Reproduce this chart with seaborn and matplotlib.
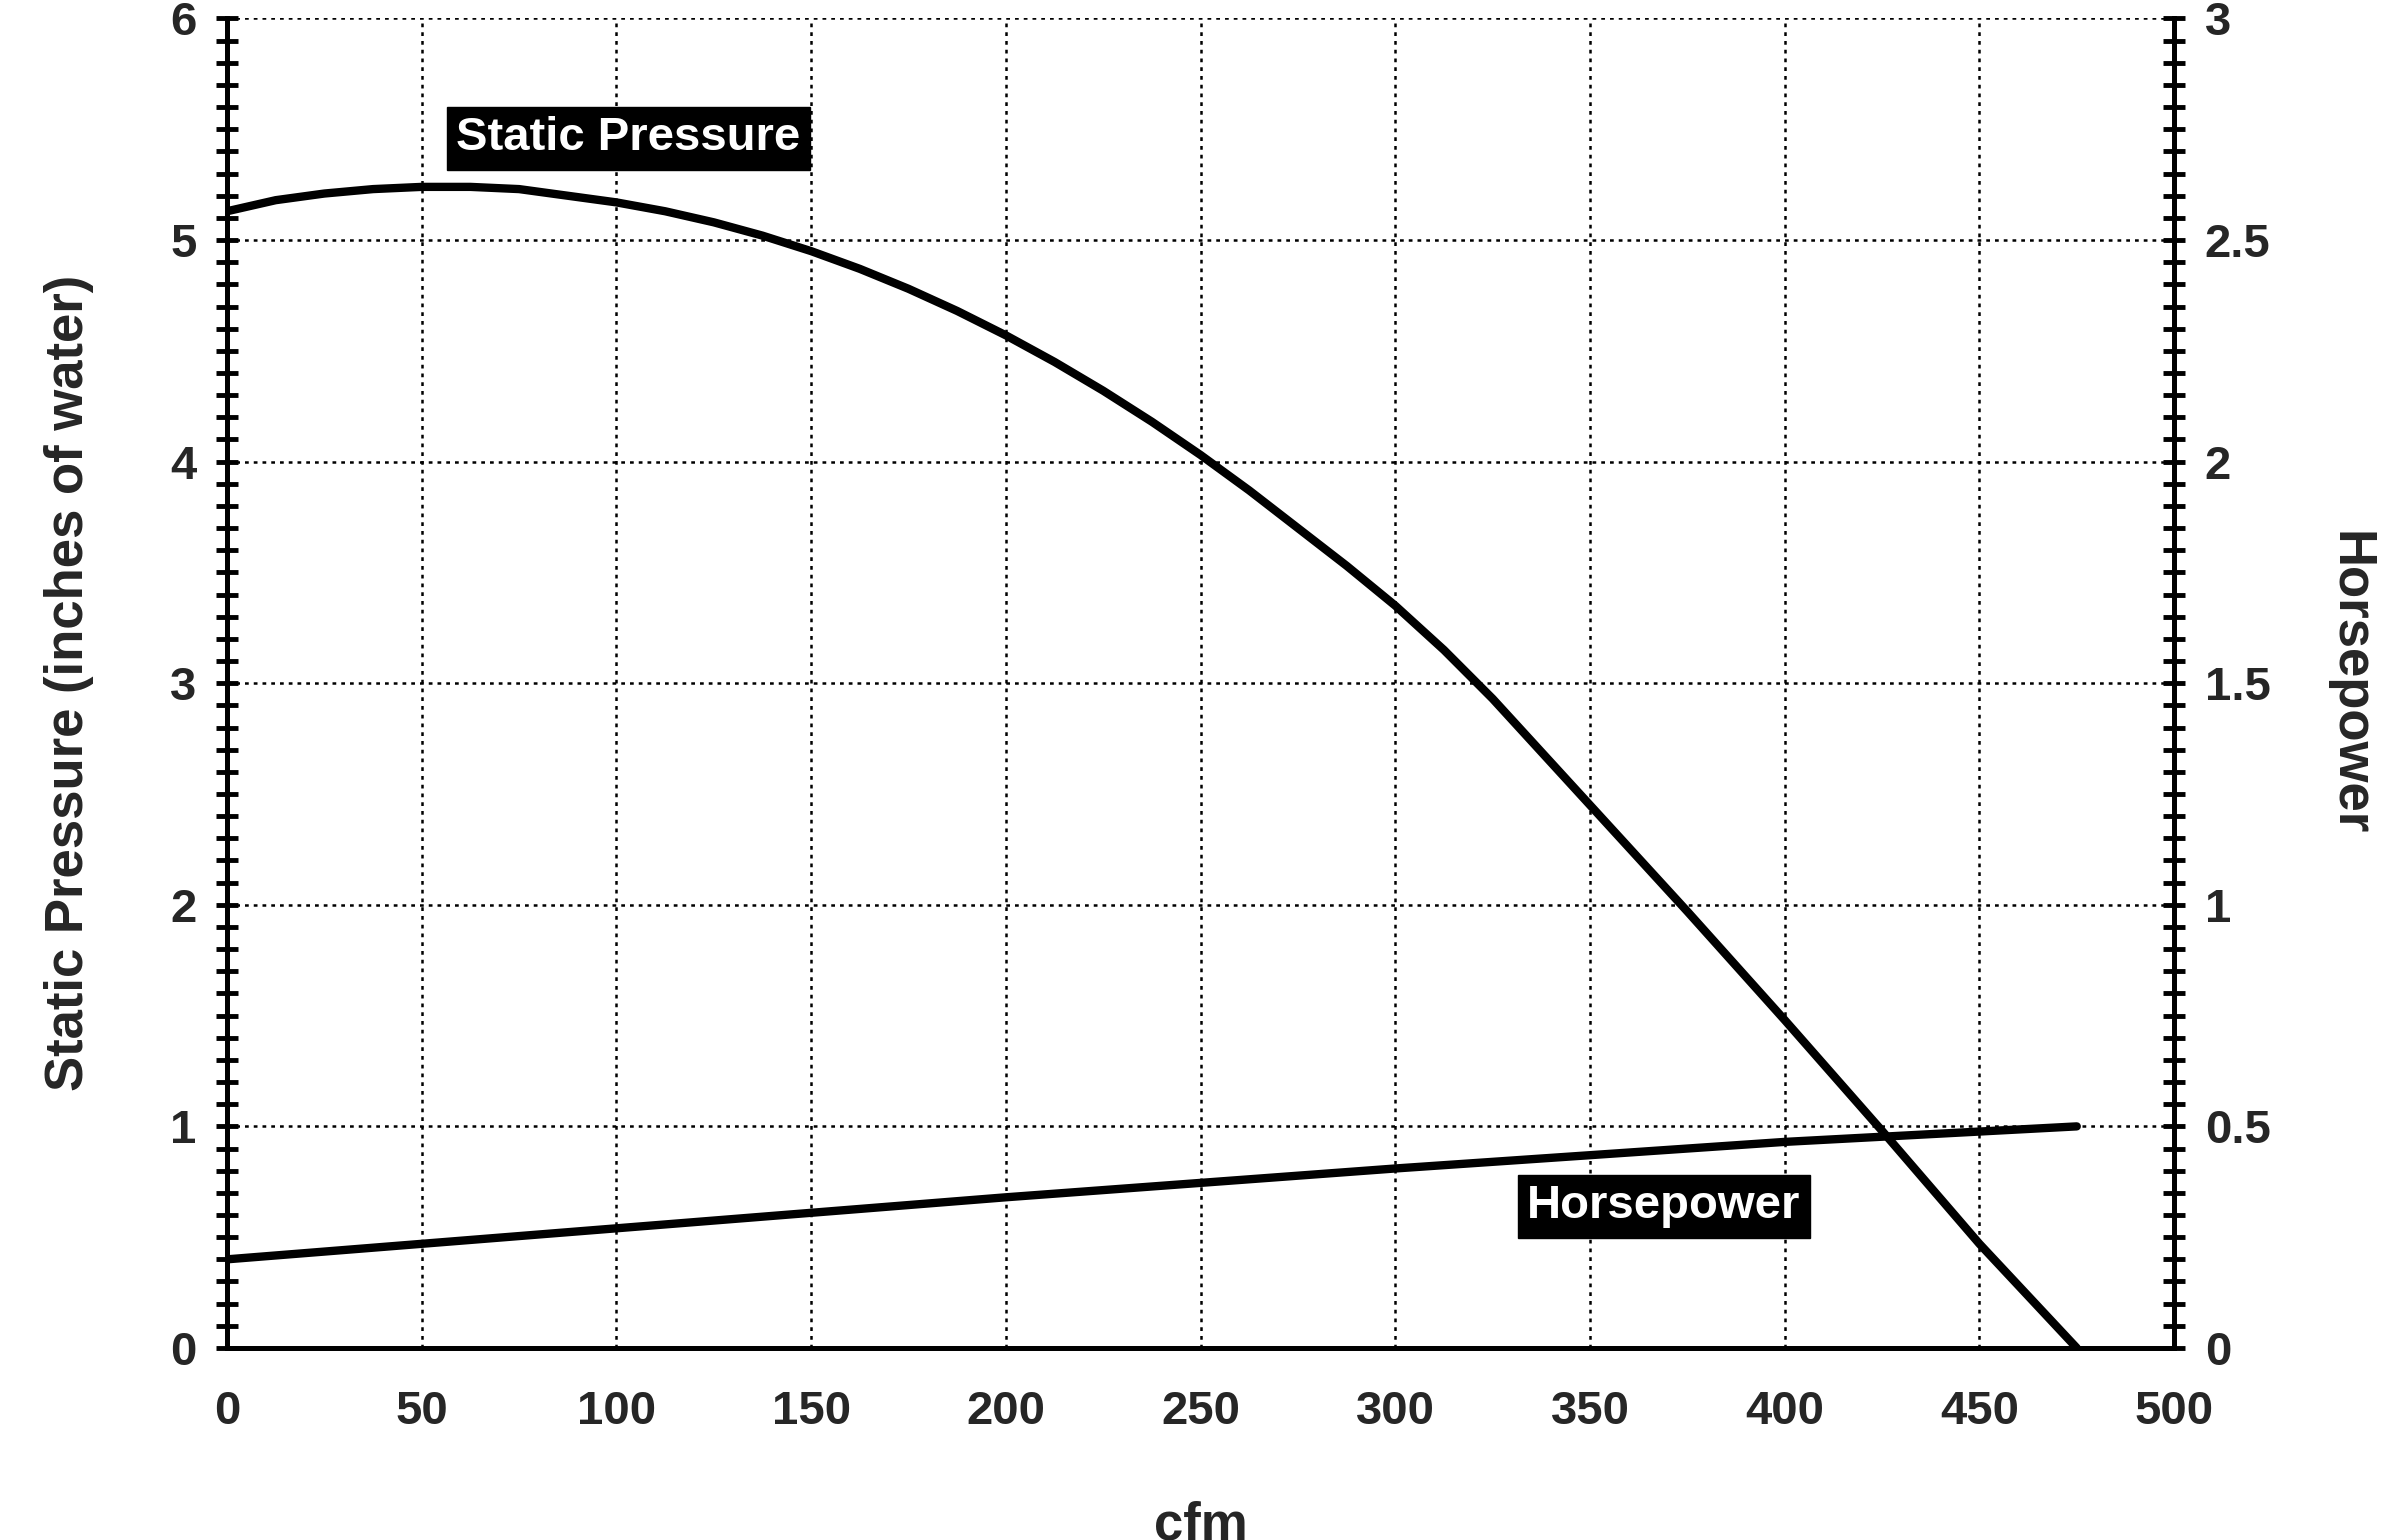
import matplotlib
matplotlib.use("Agg")
import matplotlib.pyplot as plt
from matplotlib.ticker import MultipleLocator
import seaborn as sns
import pandas as pd

cfm = [0, 12.5, 25, 37.5, 50, 62.5, 75, 87.5, 100, 112.5, 125, 137.5, 150, 162.5, 175, 187.5, 200,
       212.5, 225, 237.5, 250, 262.5, 275, 287.5, 300, 312.5, 325, 350, 375, 400, 425, 450, 475]
static_pressure = [5.13, 5.18, 5.21, 5.23, 5.24, 5.24, 5.23, 5.20, 5.17, 5.13, 5.08, 5.02, 4.95, 4.87, 4.78, 4.68, 4.57,
                   4.45, 4.32, 4.18, 4.03, 3.87, 3.70, 3.53, 3.35, 3.15, 2.93, 2.45, 1.97, 1.48, 0.98, 0.47, 0.0]
hp_cfm = [0, 100, 200, 300, 400, 475]
horsepower = [0.20, 0.27, 0.34, 0.405, 0.465, 0.50]

sns.set_theme(style="white")
plt.rcParams['font.family'] = ['Liberation Sans', 'DejaVu Sans']
plt.rcParams['font.weight'] = 'bold'

fig = plt.figure(figsize=(24.05, 15.40), dpi=100)
ax = fig.add_axes([0.0944, 0.1247, 0.8096, 0.8633])
ax2 = ax.twinx()

sp = pd.DataFrame({"cfm": cfm, "sp": static_pressure})
hp = pd.DataFrame({"cfm": hp_cfm, "hp": horsepower})
sns.lineplot(data=sp, x="cfm", y="sp", ax=ax, color="black", lw=6)
sns.lineplot(data=hp, x="cfm", y="hp", ax=ax2, color="black", lw=6)

ax.set_xlim(0, 500); ax.set_ylim(0, 6); ax2.set_ylim(0, 3)
ax.xaxis.set_major_locator(MultipleLocator(50)); ax.xaxis.set_minor_locator(MultipleLocator(5))
ax.yaxis.set_major_locator(MultipleLocator(1)); ax.yaxis.set_minor_locator(MultipleLocator(0.1))
ax2.yaxis.set_minor_locator(MultipleLocator(0.05))
ax2.set_yticks([0, 0.5, 1, 1.5, 2, 2.5, 3]); ax2.set_yticklabels(["0", "0.5", "1", "1.5", "2", "2.5", "3"])

ax.grid(True, which="major", color="black", ls=(0, (1.5, 2)), lw=1.8)
for a in (ax, ax2):
    for s in ("left", "bottom", "right"):
        a.spines[s].set_visible(True); a.spines[s].set_color("black"); a.spines[s].set_linewidth(3.5)
    a.spines["top"].set_visible(False)
    a.tick_params(which="major", direction="inout", length=16, width=3.5, labelsize=34, color="black", pad=14)
    a.tick_params(which="minor", direction="inout", length=16, width=3.5, color="black")
ax.tick_params(axis="x", pad=22)

ax.set_xlabel("cfm", fontsize=38, fontweight="bold", labelpad=48)
ax.set_ylabel("Static Pressure (inches of water)", fontsize=38, fontweight="bold", labelpad=55)
ax2.set_ylabel("Horsepower", fontsize=38, fontweight="bold", rotation=270, labelpad=75)

box = dict(facecolor="black", edgecolor="black", boxstyle="square,pad=0.2")
ax.text(103, 5.46, "Static Pressure", color="white", fontsize=34, fontweight="bold", ha="center", va="center", bbox=box)
ax.text(369, 0.64, "Horsepower", color="white", fontsize=34, fontweight="bold", ha="center", va="center", bbox=box)

fig.savefig("out.png", dpi=100)
